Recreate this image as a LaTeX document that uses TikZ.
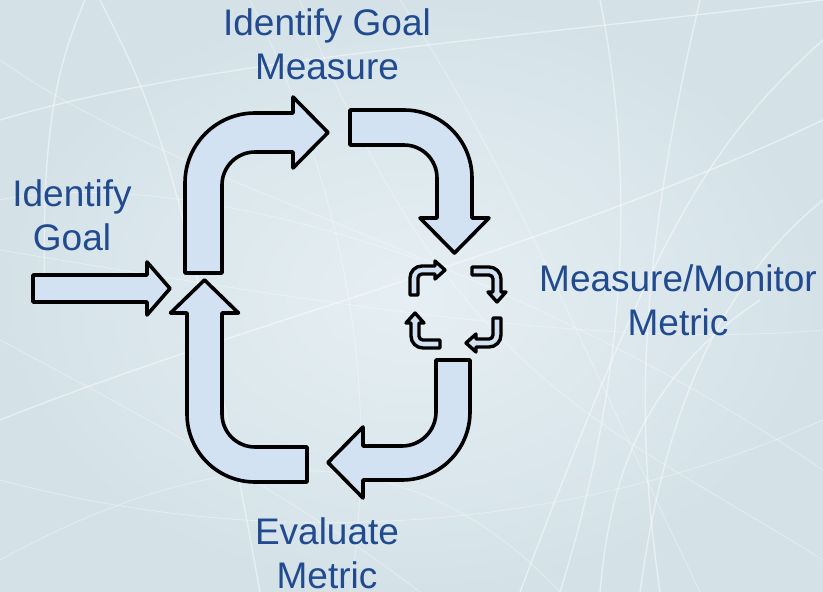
\documentclass[tikz,border=0pt]{standalone}
\usepackage{fontspec}
\setmainfont{Liberation Sans}
\definecolor{bg}{RGB}{212,226,232}
\definecolor{bglight}{RGB}{230,239,243}
\definecolor{arrowfill}{RGB}{210,226,243}
\definecolor{txt}{RGB}{33,74,143}
\begin{document}
\begin{tikzpicture}[x=1pt,y=-1pt,
  bigarrow/.style={draw=black, fill=arrowfill, line width=3.6pt, line join=round},
  smallarrow/.style={draw=black, fill=arrowfill, line width=3.4pt, line join=round},
  label/.style={text=txt, font=\fontsize{37}{44}\selectfont, align=center, inner sep=0pt},
  swirl/.style={draw=white, opacity=0.45, line width=1.4pt},
  swirlthin/.style={draw=white, opacity=0.35, line width=0.8pt}]
\useasboundingbox (0,0) rectangle (823,592);
\shade[inner color=bglight, outer color=bg] (0,0) rectangle (823,592);
\begin{scope}
\clip (0,0) rectangle (823,592);
\draw[swirl] (85,0) .. controls (60,60) and (40,120) .. (45,300);
\draw[swirl] (0,120) .. controls (200,60) and (500,40) .. (823,0);
\draw[swirl] (100,0) .. controls (150,100) and (180,150) .. (260,592);
\draw[swirl] (0,420) .. controls (250,320) and (550,250) .. (823,120);
\draw[swirlthin] (0,250) .. controls (300,300) and (600,350) .. (823,330);
\draw[swirl] (560,592) .. controls (620,400) and (640,200) .. (600,0);
\draw[swirl] (640,592) .. controls (660,450) and (700,300) .. (823,200);
\draw[swirlthin] (0,560) .. controls (200,450) and (400,420) .. (560,592);
\draw[swirlthin] (400,0) .. controls (500,150) and (560,300) .. (700,592);
\draw[swirl] (823,40) .. controls (700,150) and (650,250) .. (520,592);
\draw[swirlthin] (0,340) .. controls (150,420) and (300,500) .. (420,592);
\draw[swirlthin] (250,0) .. controls (350,200) and (380,400) .. (350,592);
\draw[swirl] (660,592) .. controls (640,450) and (630,300) .. (700,0);
\draw[swirlthin] (0,60) .. controls (200,200) and (500,250) .. (823,470);
\draw[swirlthin] (823,560) .. controls (600,420) and (450,380) .. (300,0);
\draw[swirlthin] (0,480) .. controls (300,560) and (600,520) .. (823,420);
\draw[swirl] (600,592) .. controls (610,480) and (640,380) .. (760,300);
\draw[swirlthin] (0,200) .. controls (100,180) and (250,200) .. (420,260);
\end{scope}

% left straight arrow
\draw[bigarrow] (33,275) -- (147,275) -- (147,262) -- (170,288.5) -- (147,315) -- (147,302) -- (33,302) -- cycle;

% up then right
\draw[bigarrow] (185,273) -- (185,183) arc[start angle=180, end angle=270, radius=70]
  -- (293,113) -- (293,97) -- (328,132.5) -- (293,168) -- (293,152) -- (255,152)
  arc[start angle=270, end angle=180, radius=33] -- (222,273) -- cycle;

% right then down
\draw[bigarrow] (350,110) -- (404,110) arc[start angle=270, end angle=360, radius=68]
  -- (472,218) -- (489,218) -- (454.5,253) -- (420,218) -- (437,218) -- (437,178)
  arc[start angle=0, end angle=-90, radius=33] -- (350,145) -- cycle;

% down then left
\draw[bigarrow] (436,360) -- (470,360) -- (470,412) arc[start angle=0, end angle=90, radius=68]
  -- (363,480) -- (363,498) -- (328,462.5) -- (363,427) -- (363,446) -- (402,446)
  arc[start angle=90, end angle=0, radius=34] -- cycle;

% right then up
\draw[bigarrow] (307,447) -- (307,482) -- (255,482) arc[start angle=90, end angle=180, radius=68]
  -- (187,313) -- (170.5,313) -- (204.5,280) -- (238.5,313) -- (222,313) -- (222,414)
  arc[start angle=180, end angle=90, radius=33] -- cycle;

% small cycle arrows
\foreach \ang/\dx/\dy in {0/0/0, -90/6/-4, -180/0/3, -270/-7/5}{
  \begin{scope}[shift={(456+\dx,306+\dy)}, rotate=\ang]
  \draw[smallarrow] (16,-39) -- (33,-39) arc[start angle=270, end angle=360, radius=12]
    -- (45,-14) -- (50,-14) -- (41,-4) -- (32,-14) -- (37,-14) -- (37,-27)
    arc[start angle=0, end angle=-90, radius=4] -- (16,-31) -- cycle;
  \end{scope}
}

% labels
\node[label] (igm) at (327,44) {Identify Goal\\Measure};
\node[label] (ig) at (72,215) {Identify\\Goal};
\node[label] (mmm) at (678,300) {Measure/Monitor\\Metric};
\node[label] (em) at (327,553) {Evaluate\\Metric};
\end{tikzpicture}
\end{document}
